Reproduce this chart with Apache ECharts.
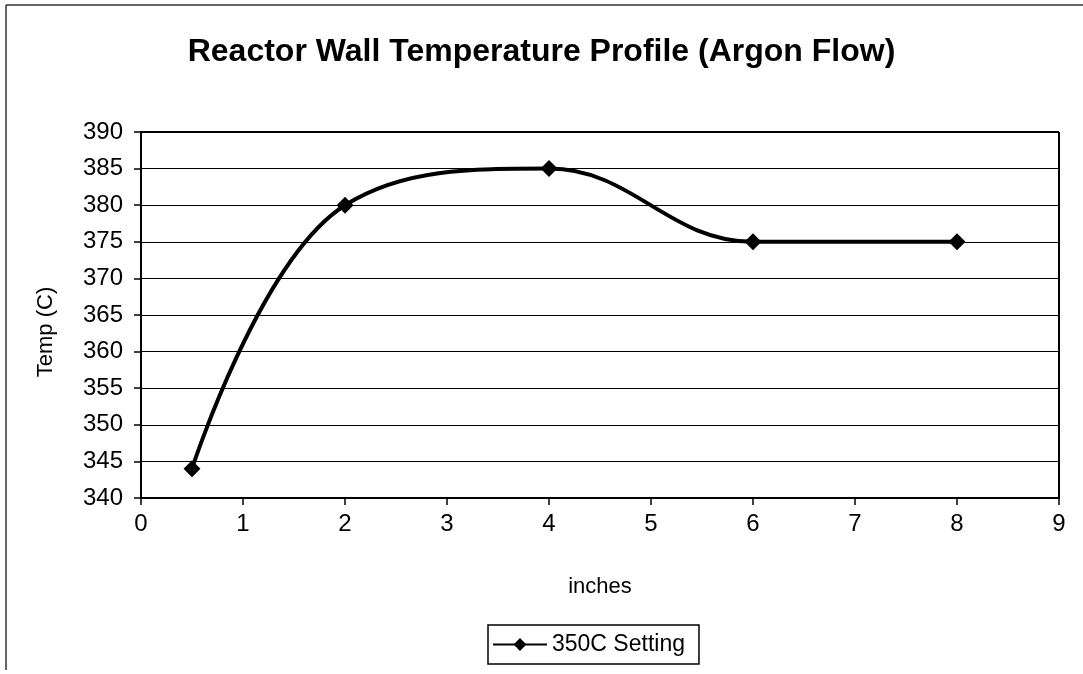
<!DOCTYPE html>
<html>
<head>
<meta charset="utf-8">
<script src="https://cdn.jsdelivr.net/npm/echarts@6/dist/echarts.min.js"></script>
<style>
  html, body { margin: 0; padding: 0; background: #fff; }
  #chart { width: 1083px; height: 674px; }
</style>
</head>
<body>
<div id="chart"></div>
<script>
// data
const inches = [0.5, 2, 4, 6, 8];
const temps = [344, 380, 385, 375, 375];
const seriesName = '350C Setting';

const font = '"Liberation Sans", Arial, sans-serif';
let myChart = echarts.init(document.getElementById('chart'));
myChart.setOption({
  backgroundColor: '#fff',
  animation: false,
  title: {
    text: 'Reactor Wall Temperature Profile (Argon Flow)',
    left: 'center',
    top: 31,
    textStyle: { fontFamily: font, fontSize: 32, fontWeight: 'bold', color: '#000' }
  },
  legend: {
    data: [seriesName],
    left: 488,
    top: 625,
    padding: [8, 14, 8, 4],
    borderColor: '#000',
    borderWidth: 1.5,
    itemWidth: 54,
    itemHeight: 16,
    itemGap: 4,
    textStyle: { fontFamily: font, fontSize: 23, color: '#000' }
  },
  grid: { left: 141, right: 24, top: 132, bottom: 176 },
  xAxis: {
    type: 'value',
    min: 0, max: 9, interval: 1,
    name: 'inches',
    nameLocation: 'middle',
    nameGap: 78,
    nameTextStyle: { fontFamily: font, fontSize: 22, color: '#000' },
    axisLine: { lineStyle: { color: '#000', width: 2 } },
    axisTick: { show: true, length: 7, lineStyle: { color: '#000', width: 1.5 } },
    axisLabel: { fontFamily: font, fontSize: 24, color: '#000', margin: 14 },
    splitLine: { show: false }
  },
  yAxis: {
    type: 'value',
    min: 340, max: 390, interval: 5,
    name: 'Temp (C)',
    nameLocation: 'middle',
    nameGap: 84,
    nameTextStyle: { fontFamily: font, fontSize: 22, color: '#000', padding: [0, 34, 0, 0] },
    axisLine: { show: true, lineStyle: { color: '#000', width: 2 } },
    axisTick: { show: true, length: 7, lineStyle: { color: '#000', width: 1.5 } },
    axisLabel: { fontFamily: font, fontSize: 24, color: '#000', margin: 18 },
    splitLine: { show: true, lineStyle: { color: '#000', width: 1.2 } }
  },
  series: [{
    name: seriesName,
    type: 'line',
    data: inches.map((x, i) => [x, temps[i]]),
    smooth: 0.4,
    symbol: 'diamond',
    symbolSize: 17,
    itemStyle: { color: '#000' },
    lineStyle: { color: '#000', width: 4 }
  }],
  graphic: [
    { type: 'line', shape: { x1: 1059, y1: 132, x2: 1059, y2: 498 }, style: { stroke: '#000', lineWidth: 2 } },
    { type: 'line', shape: { x1: 141, y1: 132, x2: 1059, y2: 132 }, style: { stroke: '#000', lineWidth: 2 } },
    { type: 'line', shape: { x1: 6, y1: 5, x2: 1083, y2: 5 }, style: { stroke: '#333', lineWidth: 1.5 } },
    { type: 'line', shape: { x1: 6, y1: 5, x2: 6, y2: 670 }, style: { stroke: '#333', lineWidth: 1.5 } }
  ]
});
</script>
</body>
</html>
